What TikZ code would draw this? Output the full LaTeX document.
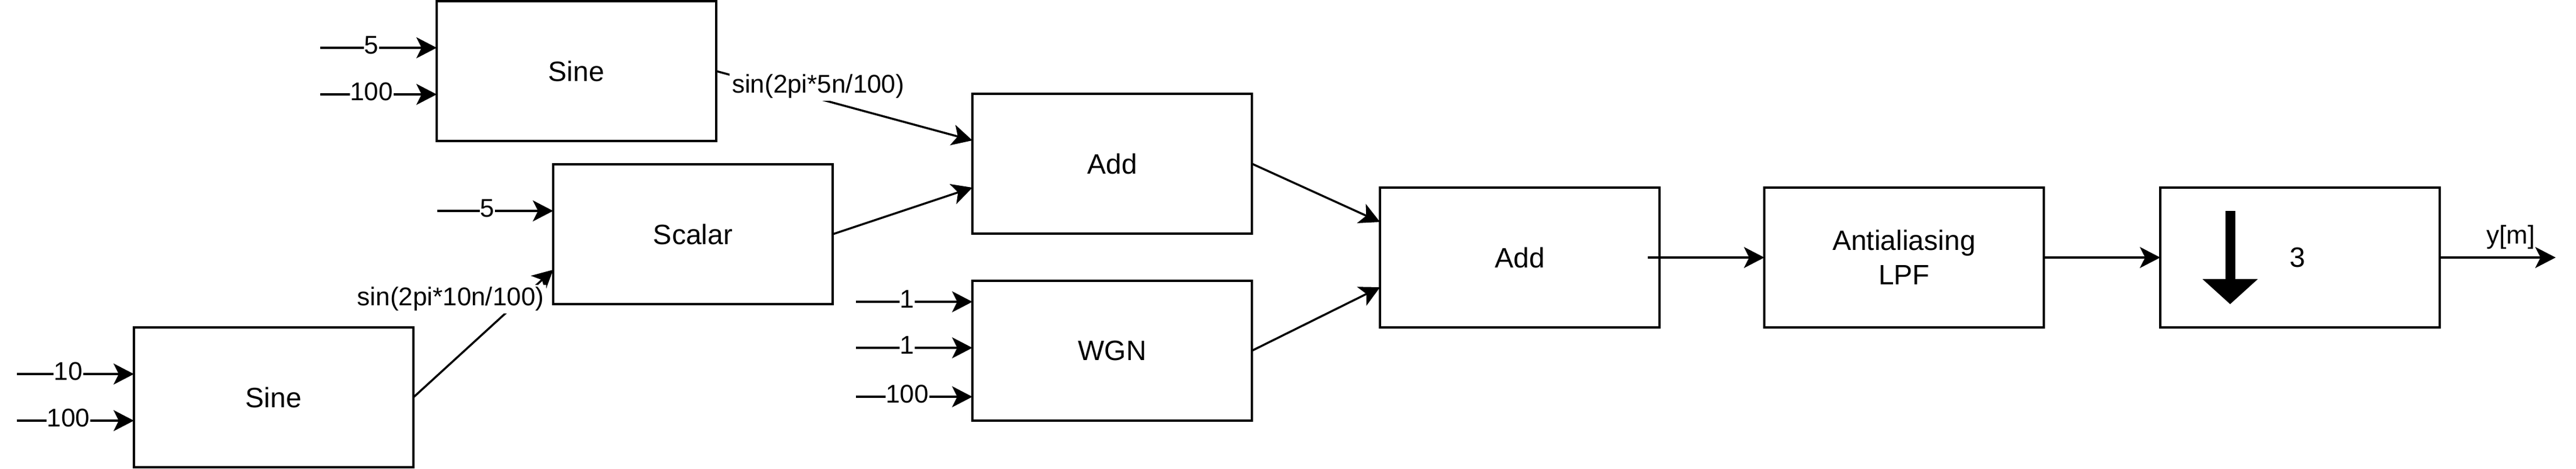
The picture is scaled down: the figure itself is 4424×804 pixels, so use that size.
\documentclass[tikz,border=0pt]{standalone}
\usepackage{fontspec}
\setmainfont{Liberation Sans}
\usetikzlibrary{arrows.meta,calc}
\begin{document}
\begin{tikzpicture}[x=0.25pt,y=-0.25pt,
  blk/.style={draw,line width=0.875pt,minimum width=120pt,minimum height=60pt,inner sep=0pt,outer sep=0pt,font=\fontsize{12pt}{14.75pt}\selectfont,align=center},
  arr/.style={line width=0.875pt,-{Stealth[length=8.75pt,width=9pt,inset=2.25pt]}},
  inlbl/.style={fill=white,inner xsep=0.2pt,inner ysep=1pt,font=\fontsize{11pt}{13pt}\selectfont,anchor=base,yshift=-2.5pt},
  elbl/.style={fill=white,inner sep=1pt,font=\fontsize{11pt}{13pt}\selectfont,anchor=base},
  olbl/.style={inner sep=0pt,font=\fontsize{11pt}{13pt}\selectfont,anchor=base}]
\useasboundingbox (0,0) rectangle (4424,804);

% blocks
\node[blk] (sine1) at (990,122) {Sine};
\node[blk] (scalar) at (1190,402) {Scalar};
\node[blk] (sine2) at (470,682) {Sine};
\node[blk] (add1) at (1910,281) {Add};
\node[blk] (wgn) at (1910,602) {WGN};
\node[blk] (add2) at (2610,442) {Add};
\node[blk] (lpf) at (3270,442) {Antialiasing\\LPF};
\node[blk] (down) at (3950,442) {\hspace*{-2pt}3};

% down-sampling arrow symbol
\fill (3821.5,362) rectangle (3838.5,481);
\fill (3782.5,479) -- (3877.5,479) -- (3830,522) -- cycle;

% free input ends
\coordinate (s1a) at (550,82);
\coordinate (s1b) at (550,162);
\coordinate (sca) at (751,362);
\coordinate (s2a) at (29,642);
\coordinate (s2b) at (29,722);
\coordinate (wa) at (1470,518);
\coordinate (wb) at (1470,597);
\coordinate (wc) at (1470,681);
\coordinate (out) at (4389,442);

% inputs
\draw[arr] (s1a) -- node[inlbl,pos=0.44]{5} (s1a -| sine1.west);
\draw[arr] (s1b) -- node[inlbl,pos=0.44]{100} (s1b -| sine1.west);
\draw[arr] (sca) -- node[inlbl,pos=0.43]{5} (sca -| scalar.west);
\draw[arr] (s2a) -- node[inlbl,pos=0.44]{10} (s2a -| sine2.west);
\draw[arr] (s2b) -- node[inlbl,pos=0.44]{100} (s2b -| sine2.west);
\draw[arr] (wa) -- node[inlbl,pos=0.44]{1} (wa -| wgn.west);
\draw[arr] (wb) -- node[inlbl,pos=0.44]{1} (wb -| wgn.west);
\draw[arr] (wc) -- node[inlbl,pos=0.44]{100} (wc -| wgn.west);

% connectors
\draw[arr] (sine1.east) -- node[elbl,pos=0.398,yshift=2.35pt]{sin(2pi*5n/100)} ([yshift=10pt]add1.west);
\draw[arr] (scalar.east) -- ([yshift=-10.25pt]add1.west);
\draw[arr] (sine2.east) -- node[elbl,pos=0.267,yshift=24.65pt]{sin(2pi*10n/100)} ([yshift=-15.25pt]scalar.west);
\draw[arr] (add1.east) -- ([yshift=15.25pt]add2.west);
\draw[arr] (wgn.east) -- ([yshift=-12.75pt]add2.west);
\draw[arr] ([xshift=-5pt]add2.east) -- (lpf.west);
\draw[arr] (lpf.east) -- (down.west);
\draw[arr] (down.east) -- node[olbl,pos=0.613,yshift=6pt]{y[m]} (out);
\end{tikzpicture}
\end{document}
